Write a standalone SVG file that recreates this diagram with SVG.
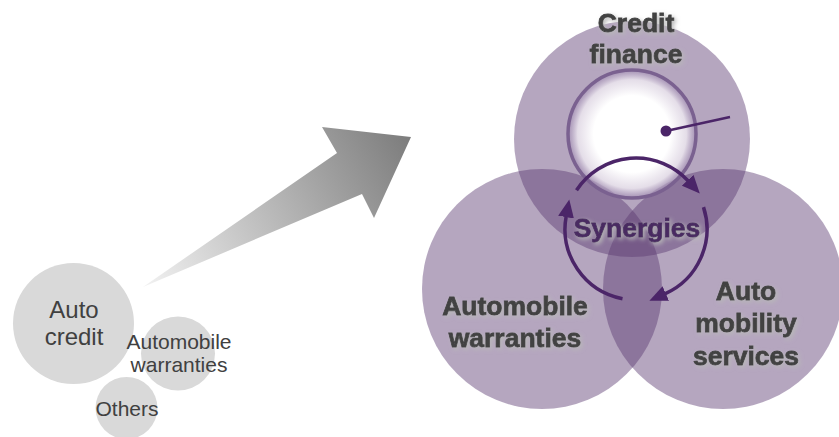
<svg xmlns="http://www.w3.org/2000/svg" width="839" height="437" viewBox="0 0 839 437">
<defs>
<linearGradient id="arrowGrad" gradientUnits="userSpaceOnUse" x1="143" y1="287" x2="411" y2="137">
<stop offset="0" stop-color="#f2f2f2"/>
<stop offset="1" stop-color="#7c7c7c"/>
</linearGradient>
<radialGradient id="coreGrad" cx="0.5" cy="0.5" r="0.5">
<stop offset="0" stop-color="#ffffff"/>
<stop offset="0.6" stop-color="#ffffff"/>
<stop offset="0.85" stop-color="#f4f0f6" stop-opacity="0.75"/>
<stop offset="1" stop-color="#9a84ad" stop-opacity="0.6"/>
</radialGradient>
<filter id="shadow" x="-20%" y="-30%" width="140%" height="160%">
<feGaussianBlur in="SourceAlpha" stdDeviation="2.2"/>
<feOffset dx="1.5" dy="1.5" result="b"/>
<feFlood flood-color="#b8b8b8" flood-opacity="1"/>
<feComposite in2="b" operator="in" result="s"/>
<feMerge><feMergeNode in="s"/><feMergeNode in="SourceGraphic"/></feMerge>
</filter>
<marker id="head" viewBox="0 0 18 16" refX="1" refY="8" markerWidth="18" markerHeight="16" markerUnits="userSpaceOnUse" orient="auto">
<path d="M0,0 L18,8 L0,16 z" fill="#4b2568"/>
</marker>
</defs>
<style>
.small{fill:#d9d9d9}
.venn{fill:#5b3a72;fill-opacity:0.45}
.ltext{font-family:"Liberation Sans",Arial,sans-serif;fill:#404040;text-anchor:middle}
.btext{font-family:"Liberation Sans",Arial,sans-serif;font-size:26.5px;font-weight:700;fill:#424242;stroke:#424242;stroke-width:0.8;text-anchor:middle}
.syn{fill:#4a2b62;stroke:#4a2b62}
.cyc{fill:none;stroke:#4b2568;stroke-width:3.5}
</style>
<rect width="839" height="437" fill="#ffffff"/>

<g id="arrow">
<polygon points="143,287 337,153 322,127 411,137 374,218 362,194" fill="url(#arrowGrad)"/>
</g>

<g id="auto-credit">
<circle class="small" cx="73.5" cy="323.5" r="60.5"/>
<text class="ltext" font-size="24" x="74" y="318">Auto</text>
<text class="ltext" font-size="24" x="74" y="345">credit</text>
</g>
<g id="small-warranties">
<circle class="small" cx="178" cy="353.5" r="37"/>
</g>
<g id="others">
<circle class="small" cx="126.5" cy="408" r="31"/>
<text class="ltext" font-size="21" x="127" y="416">Others</text>
</g>
<g id="small-warranties-label">
<text class="ltext" font-size="21" x="179" y="349">Automobile</text>
<text class="ltext" font-size="21" x="179" y="372">warranties</text>
</g>

<g id="credit-finance">
<circle class="venn" cx="632" cy="139" r="118"/>
</g>
<g id="automobile-warranties">
<circle class="venn" cx="542" cy="289" r="120"/>
</g>
<g id="auto-mobility-services">
<circle class="venn" cx="723" cy="289" r="120"/>
</g>

<g id="core">
<circle cx="632" cy="134" r="64" fill="url(#coreGrad)" stroke="#7a6190" stroke-width="3.5"/>
<circle cx="666" cy="131" r="5.5" fill="#4b2568"/>
<line x1="666" y1="131" x2="730" y2="117" stroke="#4b2568" stroke-width="2.5"/>
</g>

<g id="connectors">
<path class="cyc" d="M576.5,190.3 A71,71 0 0 1 688.3,181.0" marker-end="url(#head)"/>
<path class="cyc" d="M703.5,207.1 A71,71 0 0 1 664.9,293.9" marker-end="url(#head)"/>
<path class="cyc" d="M622.5,298.7 A71,71 0 0 1 566.2,216.1" marker-end="url(#head)"/>
</g>

<g id="labels" filter="url(#shadow)">
<text class="btext" x="636" y="32">Credit</text>
<text class="btext" x="636" y="63">finance</text>
<text class="btext syn" x="637" y="237">Synergies</text>
<text class="btext" x="515" y="315">Automobile</text>
<text class="btext" x="515" y="347">warranties</text>
<text class="btext" x="746" y="300">Auto</text>
<text class="btext" x="746" y="332">mobility</text>
<text class="btext" x="746" y="365">services</text>
</g>
</svg>
